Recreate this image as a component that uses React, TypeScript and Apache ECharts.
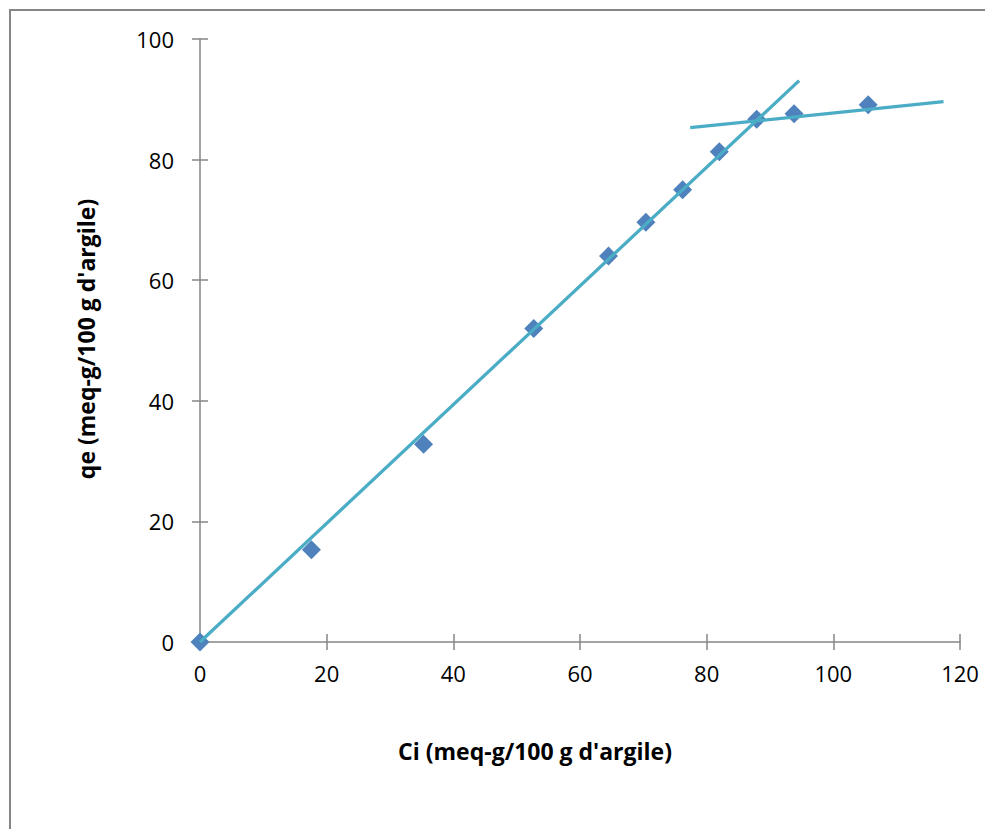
import React, { useEffect, useRef } from "react";
import * as echarts from "echarts";

const ciValues = [0, 17.6, 35.3, 52.7, 64.5, 70.4, 76.2, 82.0, 87.9, 93.8, 105.5];
const qeValues = [0, 15.3, 32.8, 52.0, 64.0, 69.6, 75.0, 81.3, 86.7, 87.6, 89.1];
const trend1Ci = [0, 94.6];
const trend1Qe = [0, 93.1];
const trend2Ci = [77.4, 117.4];
const trend2Qe = [85.3, 89.6];
const xTitle = "Ci (meq-g/100 g d'argile)";
const yTitle = "qe (meq-g/100 g d'argile)";

const FONT = "'Open Sans', 'Noto Sans', sans-serif";
const AXIS_COLOR = "#868686";

export default function App() {
  const ref = useRef<HTMLDivElement>(null);
  useEffect(() => {
    if (!ref.current) return;
    const chart = echarts.init(ref.current, undefined, { renderer: "svg" });
    const pts = ciValues.map((x, i) => [x, qeValues[i]]);
    const t1 = trend1Ci.map((x, i) => [x, trend1Qe[i]]);
    const t2 = trend2Ci.map((x, i) => [x, trend2Qe[i]]);
    const baseX = {
      type: "value",
      min: 0,
      max: 120,
      interval: 20,
      position: "bottom",
      splitLine: { show: false },
    };
    const baseY = {
      type: "value",
      min: 0,
      max: 100,
      interval: 20,
      position: "left",
      splitLine: { show: false },
    };
    chart.setOption({
      animation: false,
      backgroundColor: "#ffffff",
      grid: { left: 200, right: 25, top: 39, bottom: 187, containLabel: false },
      xAxis: [
        {
          ...baseX,
          axisLine: { show: true, lineStyle: { color: AXIS_COLOR, width: 1.5 } },
          axisTick: { show: true, length: 8, lineStyle: { color: AXIS_COLOR, width: 1.5 } },
          axisLabel: { color: "#000", fontSize: 22, fontFamily: FONT, margin: 20 },
        },
        {
          ...baseX,
          axisLine: { show: false },
          axisTick: { show: true, inside: true, length: 8, lineStyle: { color: AXIS_COLOR, width: 1.5 } },
          axisLabel: { show: false },
        },
      ],
      yAxis: [
        {
          ...baseY,
          axisLine: { show: true, lineStyle: { color: AXIS_COLOR, width: 1.5 } },
          axisTick: { show: true, length: 8, lineStyle: { color: AXIS_COLOR, width: 1.5 } },
          axisLabel: { color: "#000", fontSize: 22, fontFamily: FONT, margin: 26 },
        },
        {
          ...baseY,
          axisLine: { show: false },
          axisTick: { show: true, inside: true, length: 8, lineStyle: { color: AXIS_COLOR, width: 1.5 } },
          axisLabel: { show: false },
        },
      ],
      graphic: [
        {
          type: "rect",
          shape: { x: 10, y: 10, width: 1200, height: 1200 },
          style: { fill: "none", stroke: AXIS_COLOR, lineWidth: 2 },
          silent: true,
        },
        {
          type: "text",
          x: 535,
          y: 751,
          style: {
            text: xTitle,
            fontSize: 23,
            fontWeight: "bold",
            fontFamily: FONT,
            fill: "#000",
            align: "center",
            verticalAlign: "middle",
          },
        },
        {
          type: "text",
          x: 86,
          y: 339,
          rotation: Math.PI / 2,
          style: {
            text: yTitle,
            fontSize: 23,
            fontWeight: "bold",
            fontFamily: FONT,
            fill: "#000",
            align: "center",
            verticalAlign: "middle",
          },
        },
      ],
      series: [
        {
          type: "scatter",
          data: pts,
          symbol: "diamond",
          symbolSize: 19,
          itemStyle: { color: "#4F81BD", opacity: 1 },
          z: 2,
        },
        {
          type: "line",
          data: t1,
          showSymbol: false,
          lineStyle: { color: "#4BACC6", width: 3.3 },
          z: 3,
        },
        {
          type: "line",
          data: t2,
          showSymbol: false,
          lineStyle: { color: "#4BACC6", width: 3.3 },
          z: 3,
        },
      ],
    });
    return () => chart.dispose();
  }, []);
  return (
    <div
      ref={ref}
      style={{ position: "absolute", left: 0, top: 0, width: 985, height: 829, background: "#fff" }}
    />
  );
}
